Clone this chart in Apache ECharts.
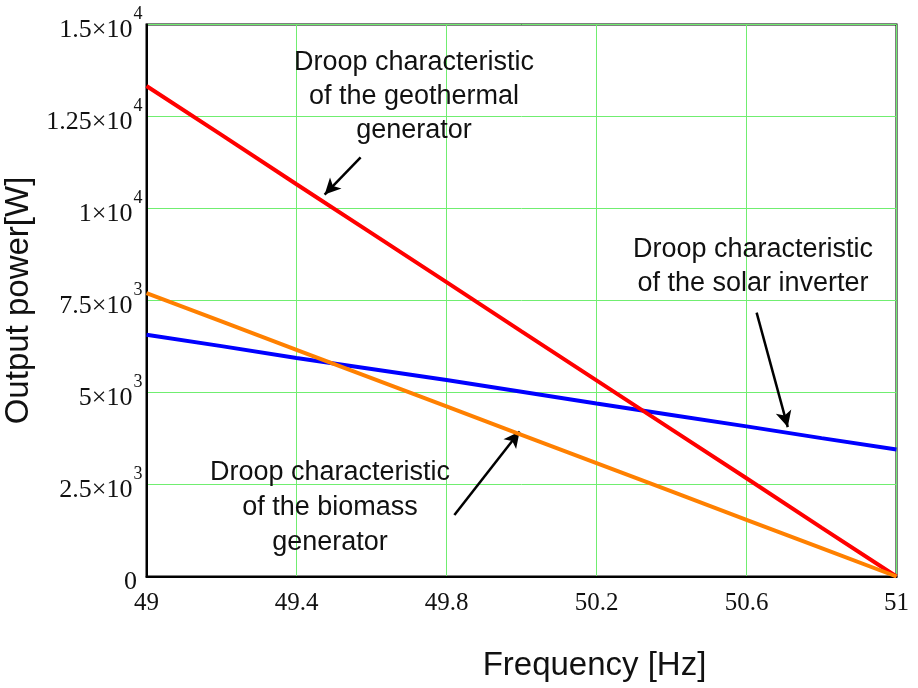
<!DOCTYPE html>
<html>
<head>
<meta charset="utf-8">
<script src="https://cdn.jsdelivr.net/npm/echarts@6/dist/echarts.min.js"></script>
<style>
  html, body { margin: 0; padding: 0; background: #fff; }
  #chart { width: 918px; height: 688px; }
</style>
</head>
<body>
<div id="chart"></div>
<script>
// frequency points [Hz]
const freq = [49, 49.2, 49.4, 49.6, 49.8, 50, 50.2, 50.4, 50.6, 50.8, 51];
// output power [W]
const geothermal = [13330, 12000, 10660, 9330, 8000, 6660, 5330, 4000, 2670, 1330, 0];
const biomass = [7700, 6930, 6160, 5390, 4620, 3850, 3080, 2310, 1540, 770, 0];
const solar = [6570, 6260, 5940, 5640, 5340, 5020, 4700, 4390, 4080, 3760, 3450];

// axis ticks
const xTickLabels = ["49", "49.4", "49.8", "50.2", "50.6", "51"];
const yTickValues = [0, 2500, 5000, 7500, 10000, 12500, 15000];
const yTickBase = ["0", "2.5×10", "5×10", "7.5×10", "1×10", "1.25×10", "1.5×10"];
const yTickExp = ["", "3", "3", "3", "4", "4", "4"];

// annotation arrows [from, to] in data units
const geoArrow = [[49.571, 11390], [49.475, 10380]];
const solarArrow = [[50.627, 7170], [50.710, 4060]];
const bioArrow = [[49.821, 1670], [49.995, 3940]];

const pairs = (ys) => freq.map((f, i) => [f, ys[i]]);

const myChart = echarts.init(document.getElementById("chart"));

const serif = "Liberation Serif";
const sans = "Liberation Sans";
const gridGreen = "#70ee70";

function note(text, x, y, lh) {
  return {
    type: "text",
    x: x,
    y: y,
    z: 100,
    style: {
      text: text,
      align: "center",
      verticalAlign: "top",
      fontFamily: sans,
      fontSize: 27,
      lineHeight: lh,
      fill: "#111",
    },
  };
}

function arrow(a) {
  return [{ coord: a[0] }, { coord: a[1] }];
}

const option = {
  animation: false,
  backgroundColor: "#fff",
  grid: {
    // half-pixel offsets keep the 1px grid lines crisp
    left: 146.5,
    right: 21.5,
    top: 24.5,
    bottom: 111.5,
    outerBoundsMode: "none",
    containLabel: false,
    show: true,
    borderColor: "#000",
    borderWidth: 2,
    backgroundColor: "transparent",
  },
  xAxis: [
    {
      // visible axis for labels and grid lines
      type: "category",
      data: xTickLabels,
      boundaryGap: false,
      axisLine: { lineStyle: { color: "#000", width: 2 } },
      axisTick: { show: false },
      axisLabel: {
        interval: 0,
        margin: 14,
        fontFamily: serif,
        fontSize: 25,
        color: "#111",
      },
      splitLine: { show: true, interval: 0, lineStyle: { color: gridGreen, width: 1 } },
      name: "Frequency [Hz]",
      nameLocation: "middle",
      nameGap: 73,
      nameTextStyle: {
        fontFamily: sans,
        fontSize: 33,
        color: "#111",
        padding: [0, 0, 0, 146],
      },
    },
    {
      // data axis
      type: "value",
      min: 49,
      max: 51,
      show: false,
      splitLine: { show: false },
    },
  ],
  yAxis: {
    type: "value",
    min: 0,
    max: 15000,
    interval: 2500,
    axisLine: { show: true, lineStyle: { color: "#000", width: 2 } },
    axisTick: { show: false },
    splitLine: { show: true, lineStyle: { color: gridGreen, width: 1 } },
    axisLabel: {
      margin: 4,
      formatter: (v) => {
        const i = yTickValues.indexOf(v);
        if (i < 0) return "";
        return "{b|" + yTickBase[i] + "}{s|" + (yTickExp[i] || " ") + "}";
      },
      rich: {
        b: {
          fontFamily: serif,
          fontSize: 26,
          lineHeight: 26,
          padding: [12, 0, 0, 0],
          color: "#111",
        },
        s: {
          fontFamily: serif,
          fontSize: 18,
          lineHeight: 18,
          padding: [0, 0, 20, 1],
          color: "#111",
        },
      },
    },
    name: "Output power[W]",
    nameLocation: "middle",
    nameRotate: 90,
    nameGap: 96,
    nameTextStyle: {
      fontFamily: sans,
      fontSize: 33,
      color: "#111",
    },
  },
  series: [
    {
      name: "Solar inverter",
      type: "line",
      xAxisIndex: 1,
      data: pairs(solar),
      showSymbol: false,
      lineStyle: { color: "#0000ff", width: 4 },
      itemStyle: { color: "#0000ff" },
      z: 3,
    },
    {
      name: "Geothermal generator",
      type: "line",
      xAxisIndex: 1,
      data: pairs(geothermal),
      showSymbol: false,
      lineStyle: { color: "#ff0000", width: 4 },
      itemStyle: { color: "#ff0000" },
      z: 4,
      markLine: {
        silent: true,
        symbol: ["none", "arrow"],
        symbolSize: [12, 16],
        label: { show: false },
        lineStyle: { color: "#000", width: 2.5, type: "solid" },
        data: [arrow(geoArrow), arrow(solarArrow), arrow(bioArrow)],
      },
    },
    {
      name: "Biomass generator",
      type: "line",
      xAxisIndex: 1,
      data: pairs(biomass),
      showSymbol: false,
      lineStyle: { color: "#ff8000", width: 4 },
      itemStyle: { color: "#ff8000" },
      z: 5,
    },
  ],
  graphic: [
    note("Droop characteristic\nof the geothermal\ngenerator", 414, 46, 34),
    note("Droop characteristic\nof the solar inverter", 753, 233, 34),
    note("Droop characteristic\nof the biomass\ngenerator", 330, 455, 35),
  ],
};

myChart.setOption(option, true);
</script>
</body>
</html>
